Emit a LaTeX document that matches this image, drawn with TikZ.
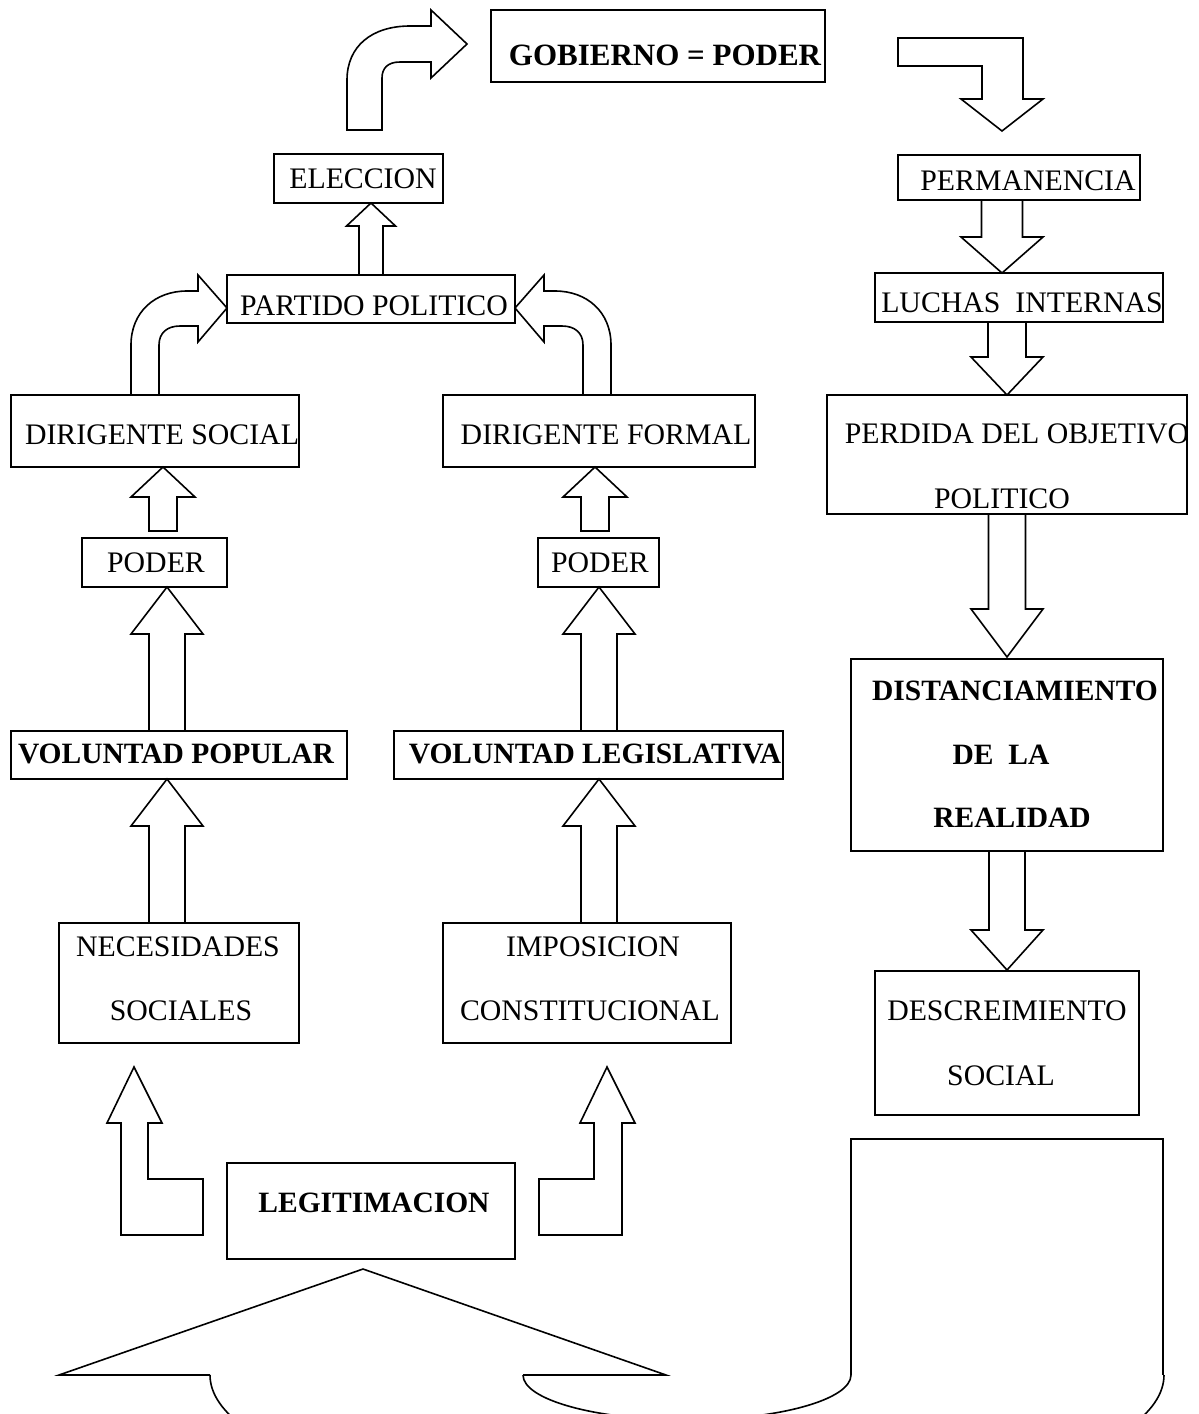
\documentclass[tikz,border=0pt]{standalone}
\usepackage{fontspec}
\setmainfont{Liberation Serif}
\newcommand\mkbox[5]{\node[box, minimum width={(#4)-(#2)}, minimum height={(#5)-(#3)}] (#1) at ({((#2)+(#4))/2},{((#3)+(#5))/2}) {};}
% x, tail y, tip y, shaft half width, head half width, head base y
\newcommand\blkarrow[6]{\draw[blk] ({#1-#4},#2) -- ({#1-#4},#6) -- ({#1-#5},#6) -- (#1,#3) -- ({#1+#5},#6) -- ({#1+#4},#6) -- ({#1+#4},#2) -- cycle;}
\begin{document}
\begin{tikzpicture}[x=1pt,y=-1pt,
  box/.style={draw, line width=2pt, rectangle, inner sep=0pt, outer sep=0pt},
  blk/.style={draw, line width=1.6pt, fill=white, line join=miter},
  rg/.style={font=\fontsize{29.8}{36}\selectfont, inner sep=0pt, anchor=base},
  bd/.style={font=\fontsize{29.5}{35}\selectfont\bfseries, inner sep=0pt, anchor=base}]
\useasboundingbox (0,0) rectangle (1199,1414);

% ---- block arrows ----
% top-left curved arrow to GOBIERNO
\draw[blk] (347,130) -- (347,80) .. controls (347,46) and (372,26) .. (410,26) -- (431,26) -- (431,10) -- (467,44) -- (431,78) -- (431,62) -- (400,62) .. controls (388,62) and (382,68) .. (382,78) -- (382,130) -- cycle;
% top-right bent arrow down to PERMANENCIA
\draw[blk] (898,38) -- (1023,38) -- (1023,99) -- (1043,99) -- (1002,131) -- (961,99) -- (982,99) -- (982,66) -- (898,66) -- cycle;
% curved arrows into PARTIDO POLITICO
\draw[blk] (131,395) -- (131,345) .. controls (131,312) and (155,291) .. (187,291) -- (198,291) -- (198,275) -- (227,308) -- (198,342) -- (198,326) -- (180,326) .. controls (167,326) and (159,333) .. (159,345) -- (159,395) -- cycle;
\draw[blk] (611,395) -- (611,345) .. controls (611,312) and (587,291) .. (555,291) -- (544,291) -- (544,275) -- (515,308) -- (544,342) -- (544,326) -- (562,326) .. controls (575,326) and (583,333) .. (583,345) -- (583,395) -- cycle;
% straight block arrows
\blkarrow{371}{275}{203}{12}{24.5}{226}
\blkarrow{163}{531}{467}{14}{32}{497}
\blkarrow{167}{731}{587}{18}{36}{634}
\blkarrow{167}{923}{779}{18}{36}{826}
\blkarrow{595}{531}{467}{14}{32}{497}
\blkarrow{599}{731}{587}{18}{36}{634}
\blkarrow{599}{923}{779}{18}{36}{826}
\blkarrow{1002}{200}{273}{20.5}{41}{237}
\blkarrow{1007}{322}{395}{19}{36}{357}
\blkarrow{1007}{514}{657}{18.5}{36}{609}
\blkarrow{1007}{851}{970}{18}{36}{930}
% L-shaped arrows from LEGITIMACION
\draw[blk] (121,1235) -- (121,1123) -- (107,1123) -- (134,1067) -- (162,1123) -- (148,1123) -- (148,1179) -- (203,1179) -- (203,1235) -- cycle;
\draw[blk] (622,1235) -- (622,1123) -- (635,1123) -- (607,1067) -- (580,1123) -- (594,1123) -- (594,1179) -- (539,1179) -- (539,1235) -- cycle;
% big U-turn arrow at the bottom
\draw[blk, fill=none] (210,1375) -- (59,1375) -- (363,1269) -- (666,1375) -- (523,1375);
\draw[blk, fill=none] (851,1375) -- (851,1139) -- (1163,1139) -- (1163,1375);
\begin{scope}
\clip (0,1375) rectangle (1199,1414);
\draw[blk, fill=none] (687,1375) ellipse [x radius=477, y radius=140];
\draw[blk, fill=none] (687,1375) ellipse [x radius=164, y radius=45];
\end{scope}

% ---- boxes ----
\mkbox{gob}{491}{10}{825}{82}
\mkbox{elec}{274}{154}{443}{203}
\mkbox{part}{227}{275}{515}{323}
\mkbox{perm}{898}{155}{1140}{200}
\mkbox{luch}{875}{273}{1163}{322}
\mkbox{dsoc}{11}{395}{299}{467}
\mkbox{dfor}{443}{395}{755}{467}
\mkbox{perd}{827}{395}{1187}{514}
\mkbox{podl}{82}{538}{227}{587}
\mkbox{podr}{538}{538}{659}{587}
\mkbox{dist}{851}{659}{1163}{851}
\mkbox{vpop}{11}{731}{347}{779}
\mkbox{vleg}{394}{731}{783}{779}
\mkbox{nece}{59}{923}{299}{1043}
\mkbox{impo}{443}{923}{731}{1043}
\mkbox{desc}{875}{971}{1139}{1115}
\mkbox{legi}{227}{1163}{515}{1259}

% ---- texts ----
\node[bd, font=\fontsize{31}{37}\selectfont\bfseries] (tgob) at (665,65) {GOBIERNO = PODER};
\node[rg] (telec) at (363,188) {ELECCION};
\node[rg] (tpart) at (374,315) {PARTIDO POLITICO};
\node[rg] (tperm) at (1028,190) {PERMANENCIA};
\node[rg] (tluch) at (1022,312) {LUCHAS\ \ INTERNAS};
\node[rg] (tdsoc) at (162,444) {DIRIGENTE SOCIAL};
\node[rg] (tdfor) at (606,444) {DIRIGENTE FORMAL};
\node[rg] (tperd1) at (1017,443) {PERDIDA DEL OBJETIVO};
\node[rg] (tperd2) at (1002,508) {POLITICO};
\node[rg] (tpodl) at (156,572) {PODER};
\node[rg] (tpodr) at (600,572) {PODER};
\node[bd] (tvpop) at (176,763) {VOLUNTAD POPULAR};
\node[bd] (tvleg) at (595,763) {VOLUNTAD LEGISLATIVA};
\node[bd] (tdist1) at (1015,700) {DISTANCIAMIENTO};
\node[bd] (tdist2) at (1001,764) {DE\ \ LA};
\node[bd] (tdist3) at (1012,827) {REALIDAD};
\node[rg] (tnece1) at (178,956) {NECESIDADES};
\node[rg] (tnece2) at (181,1020) {SOCIALES};
\node[rg] (timpo1) at (593,956) {IMPOSICION};
\node[rg] (timpo2) at (590,1020) {CONSTITUCIONAL};
\node[rg] (tdesc1) at (1007,1020) {DESCREIMIENTO};
\node[rg] (tdesc2) at (1001,1085) {SOCIAL};
\node[bd] (tlegi) at (374,1212) {LEGITIMACION};
\end{tikzpicture}
\end{document}
